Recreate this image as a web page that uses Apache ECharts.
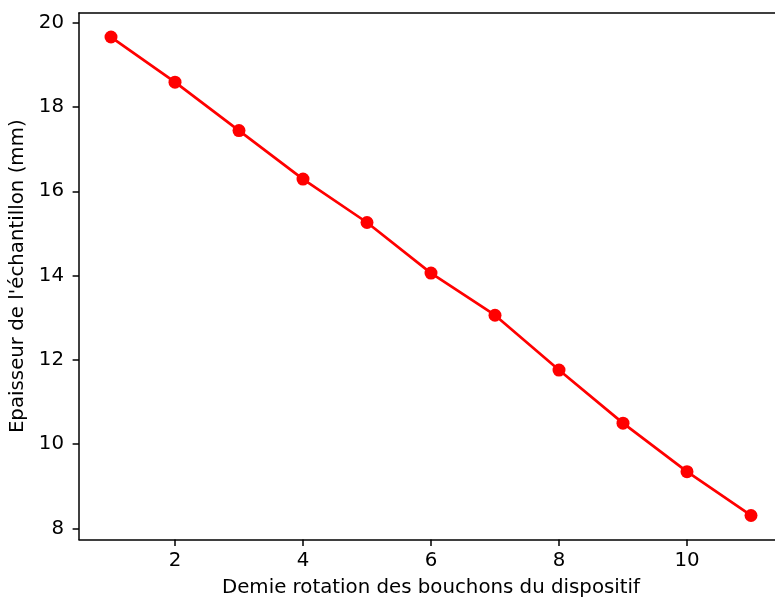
<!DOCTYPE html>
<html>
<head>
<meta charset="utf-8">
<script src="https://cdn.jsdelivr.net/npm/echarts@6/dist/echarts.min.js"></script>
<style>
  html, body { margin: 0; padding: 0; background: #fff; }
  #chart { width: 775px; height: 600px; }
</style>
</head>
<body>
<div id="chart"></div>
<script>
// Half-turns of the device caps vs. measured sample thickness
const halfTurns = [1, 2, 3, 4, 5, 6, 7, 8, 9, 10, 11];
const thicknessMm = [19.66, 18.59, 17.44, 16.29, 15.26, 14.06, 13.06, 11.76, 10.50, 9.35, 8.31];
const xTicks = [2, 4, 6, 8, 10];
const yTicks = [8, 10, 12, 14, 16, 18, 20];

const xLabel = 'Demie rotation des bouchons du dispositif';
const yLabel = "Epaisseur de l'échantillon (mm)";

const FONT = 'DejaVu Sans';
const FS = 19.8;
const INK = '#000';
const SPINE = { color: INK, width: 1.5 };

const chart = echarts.init(document.getElementById('chart'), null, { renderer: 'canvas' });

const points = halfTurns.map((x, i) => [x, thicknessMm[i]]);

chart.setOption({
  animation: false,
  backgroundColor: '#fff',
  grid: {
    left: 79, top: 13, width: 704, height: 526.5,
    outerBoundsMode: 'none',
    containLabel: false,
    show: false
  },
  xAxis: [{
    type: 'value',
    position: 'bottom',
    min: 0.5, max: 11.5,
    interval: 0.5,
    name: xLabel,
    nameLocation: 'middle',
    nameGap: 38,
    nameTextStyle: { fontFamily: FONT, fontSize: FS, color: INK },
    axisLine: { show: true, onZero: false, lineStyle: SPINE },
    axisTick: {
      show: true, inside: false, length: 6.4,
      lineStyle: SPINE,
      customValues: xTicks
    },
    axisLabel: {
      fontFamily: FONT, fontSize: FS, color: INK, margin: 11,
      customValues: xTicks,
      formatter: v => String(v)
    },
    splitLine: { show: false }
  }, {
    // top spine
    type: 'value',
    position: 'top',
    min: 0.5, max: 11.5,
    axisLine: { show: true, onZero: false, lineStyle: SPINE },
    axisTick: { show: false },
    axisLabel: { show: false },
    splitLine: { show: false }
  }],
  yAxis: {
    type: 'value',
    position: 'left',
    min: 7.74, max: 20.23,
    name: yLabel,
    nameLocation: 'middle',
    nameGap: 50,
    nameTextStyle: { fontFamily: FONT, fontSize: FS, color: INK },
    axisLine: { show: true, onZero: false, lineStyle: SPINE },
    axisTick: {
      show: true, inside: false, length: 6.4,
      lineStyle: SPINE,
      customValues: yTicks
    },
    axisLabel: {
      fontFamily: FONT, fontSize: FS, color: INK, margin: 15,
      customValues: yTicks,
      formatter: v => String(v)
    },
    splitLine: { show: false }
  },
  series: [{
    type: 'line',
    xAxisIndex: 0,
    data: points,
    symbol: 'circle',
    symbolSize: 13,
    itemStyle: { color: '#ff0000' },
    lineStyle: { color: '#ff0000', width: 2.7 },
    clip: false
  }]
});
</script>
</body>
</html>
